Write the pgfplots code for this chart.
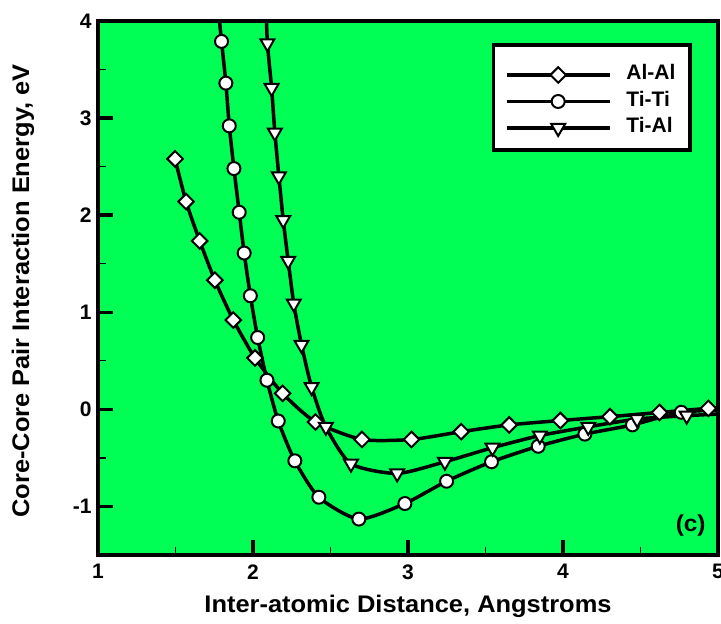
\documentclass[border=0pt]{standalone}
\usepackage{fontspec}
\setmainfont{Liberation Sans}
\newfontfamily\labfont[FakeStretch=1.06]{Liberation Sans}
\usepackage{pgfplots}
\pgfplotsset{compat=1.18}
\definecolor{bg}{RGB}{0,255,85}
\newcommand{\bfont}{\fontsize{21}{24}\selectfont\bfseries}
\newcommand{\lfont}{\labfont\fontsize{24}{28}\selectfont\bfseries}
\begin{document}
\begin{tikzpicture}
\begin{axis}[
 scale only axis, width=620pt, height=534pt,
 xmin=1, xmax=5, ymin=-1.5, ymax=4,
 xtick={1,2,3,4,5}, ytick={-1,0,1,2,3,4},
 minor x tick num=1, minor y tick num=1,
 xtick pos=bottom, ytick pos=left, tick align=inside,
 major tick length=15pt, minor tick length=8pt,
 every major tick/.style={line width=3.5pt,black},
 every minor tick/.style={line width=1.3pt,black},
 axis line style={line width=4pt},
 axis background/.style={fill=bg},
 /pgf/number format/assume math mode=true,
 ticklabel style={font=\bfont},
 xticklabel style={yshift=-6pt},
 yticklabel style={xshift=-3pt},
 xlabel={Inter-atomic Distance, Angstroms},
 ylabel={Core-Core Pair Interaction Energy, eV},
 xlabel style={font=\lfont, at={(rel axis cs:0.5,0)}, anchor=north, yshift=-37pt},
 ylabel style={font=\lfont, at={(rel axis cs:0,0.5)}, anchor=center, yshift=75pt, xshift=-3pt},
 legend style={at={(rel axis cs:0.656,0.918)}, anchor=north west, fill=none, draw=none,
   inner sep=0pt, row sep=6.5pt,
   nodes={inner sep=0pt, text height=15pt, text depth=5pt, font=\bfont},
   /tikz/every odd column/.append style={column sep=15pt}},
 legend cell align=left,
 legend image code/.code={\draw[mark repeat=2,mark phase=2] plot coordinates {(0pt,0pt)(51.5pt,0pt)(103pt,0pt)};},
]
\addplot[black, line width=3.5pt, smooth, tension=0.4, mark=square*, mark size=5.5pt,
  mark options={rotate=45, fill=white, draw=black, line width=2pt}] table {
1.497 2.58
1.568 2.14
1.656 1.735
1.754 1.33
1.873 0.92
2.013 0.53
2.191 0.165
2.403 -0.13
2.703 -0.31
3.023 -0.31
3.343 -0.23
3.653 -0.16
3.983 -0.115
4.303 -0.075
4.623 -0.032
4.938 0.01
5.100 0.02
};
\addlegendentry{Al-Al}
\addplot[black, line width=3.5pt, smooth, tension=0.4, mark=*, mark size=6.5pt,
  mark options={fill=white, draw=black, line width=2pt}] table {
1.768 4.25
1.797 3.79
1.825 3.36
1.847 2.92
1.877 2.48
1.911 2.03
1.943 1.61
1.983 1.17
2.030 0.74
2.090 0.30
2.163 -0.12
2.270 -0.53
2.425 -0.905
2.683 -1.13
2.980 -0.97
3.249 -0.74
3.539 -0.54
3.840 -0.38
4.141 -0.255
4.448 -0.16
4.763 -0.03
5.100 0.00
};
\addlegendentry{Ti-Ti}
\addplot[black, line width=3.5pt, smooth, tension=0.4, mark=triangle*, mark size=8pt,
  mark options={rotate=180, fill=white, draw=black, line width=2pt}] table {
2.083 4.2
2.093 3.77
2.120 3.31
2.141 2.85
2.167 2.40
2.195 1.95
2.227 1.53
2.263 1.09
2.313 0.665
2.378 0.23
2.470 -0.18
2.632 -0.56
2.930 -0.66
3.238 -0.54
3.545 -0.395
3.851 -0.27
4.163 -0.18
4.478 -0.10
4.798 -0.065
5.100 -0.04
};
\addlegendentry{Ti-Al}
\draw[fill=white, line width=3.5pt] (rel axis cs:0.638,0.758) rectangle (rel axis cs:0.955,0.9555);
\node[font=\labfont\fontsize{23}{26}\selectfont\bfseries, anchor=center] at (rel axis cs:0.956,0.056) {(c)};
\end{axis}
\pgfresetboundingbox
\path[use as bounding box] ([xshift=-98pt,yshift=-68pt]current axis.south west) rectangle ([xshift=3pt,yshift=21pt]current axis.north east);
\end{tikzpicture}
\end{document}
